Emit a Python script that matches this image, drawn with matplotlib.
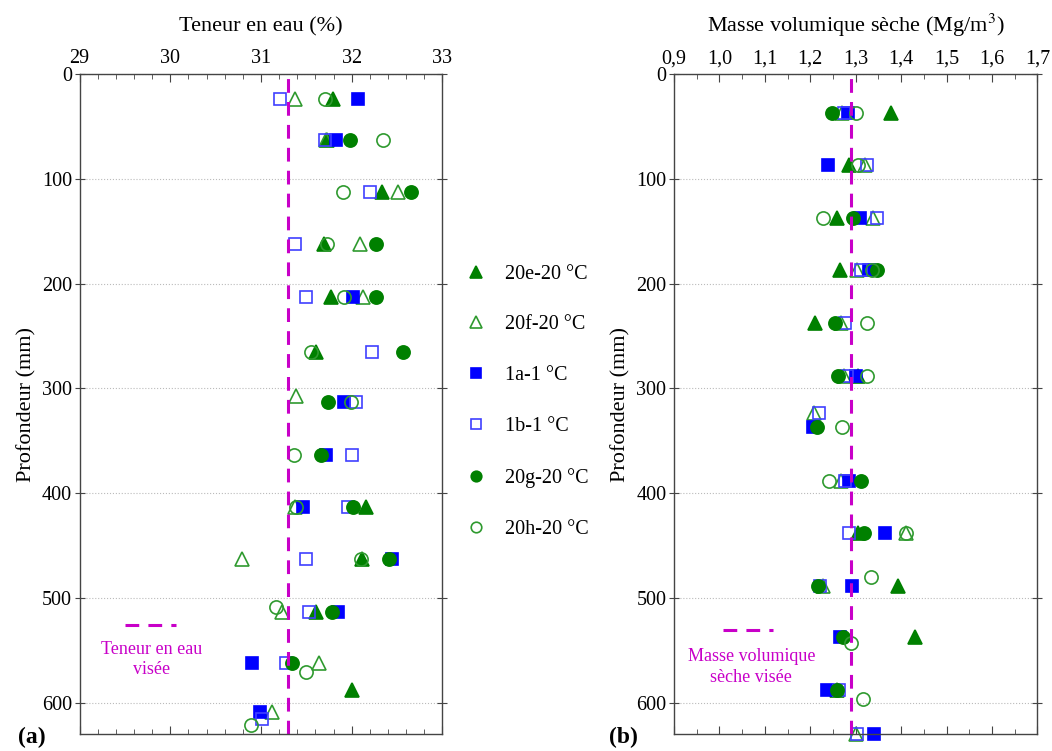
"""
profils de teneur en eau et de masse volumique seche
en fonction de la profondeur
"""
import numpy as np
import matplotlib.pyplot as plt
from matplotlib.ticker import MultipleLocator

plt.rcParams['font.family'] = ['Liberation Serif', 'DejaVu Serif']
plt.rcParams['mathtext.fontset'] = 'stix'

labels = ["20e-20 °C", "20f-20 °C", "1a-1 °C", "1b-1 °C", "20g-20 °C", "20h-20 °C"]

# teneur en eau (%) -- panneau (a)
w_20e_z = [24, 63, 113, 162, 213, 265, 413, 463, 513, 588]
w_20e = [31.79, 31.73, 32.33, 31.69, 31.77, 31.61, 32.16, 32.11, 31.61, 32.00]
w_20f_z = [24, 63, 113, 162, 213, 307, 413, 463, 513, 562, 609]
w_20f = [31.38, 31.72, 32.51, 32.09, 32.12, 31.39, 31.38, 30.79, 31.23, 31.64, 31.12]
w_1a_z = [24, 63, 213, 313, 363, 413, 463, 513, 562, 609]
w_1a = [32.07, 31.83, 32.01, 31.91, 31.72, 31.46, 32.44, 31.85, 30.90, 30.99]
w_1b_z = [24, 63, 113, 162, 213, 265, 313, 363, 413, 463, 513, 562, 615]
w_1b = [31.21, 31.70, 32.20, 31.38, 31.50, 32.22, 32.05, 32.00, 31.96, 31.50, 31.53, 31.28, 31.01]
w_20g_z = [63, 113, 162, 213, 265, 313, 363, 413, 463, 513, 562]
w_20g = [31.98, 32.65, 32.27, 32.27, 32.57, 31.74, 31.66, 32.01, 32.41, 31.78, 31.34]
w_20h_z = [24, 63, 113, 162, 213, 265, 313, 363, 413, 463, 508, 570, 621]
w_20h = [31.71, 32.35, 31.90, 31.73, 31.91, 31.55, 31.99, 31.36, 31.39, 32.10, 31.17, 31.50, 30.89]
w_target = 31.3

# masse volumique seche (Mg/m3) -- panneau (b)
rho_20e_z = [37, 87, 137, 187, 238, 288, 438, 488, 537, 588]
rho_20e = [1.378, 1.286, 1.258, 1.265, 1.211, 1.305, 1.306, 1.393, 1.430, 1.258]
rho_20f_z = [37, 87, 137, 187, 238, 288, 323, 388, 438, 488, 630]
rho_20f = [1.270, 1.320, 1.338, 1.303, 1.267, 1.274, 1.208, 1.267, 1.410, 1.229, 1.300]
rho_1a_z = [37, 87, 137, 187, 288, 337, 388, 438, 488, 537, 588, 630]
rho_1a = [1.284, 1.238, 1.309, 1.330, 1.300, 1.207, 1.286, 1.365, 1.291, 1.265, 1.236, 1.340]
rho_1b_z = [37, 87, 137, 187, 238, 288, 323, 388, 438, 488, 588, 630]
rho_1b = [1.274, 1.324, 1.347, 1.311, 1.276, 1.281, 1.219, 1.276, 1.286, 1.222, 1.264, 1.302]
rho_20g_z = [37, 137, 187, 238, 288, 337, 388, 438, 488, 537, 588]
rho_20g = [1.247, 1.294, 1.347, 1.254, 1.262, 1.214, 1.311, 1.318, 1.217, 1.271, 1.258]
rho_20h_z = [37, 87, 137, 187, 238, 288, 337, 388, 438, 480, 543, 596]
rho_20h = [1.300, 1.304, 1.227, 1.336, 1.324, 1.325, 1.269, 1.242, 1.410, 1.333, 1.289, 1.316]
rho_target = 1.29

rho_ticks = [0.9, 1.0, 1.1, 1.2, 1.3, 1.4, 1.5, 1.6, 1.7]
rho_ticklabels = ["0,9", "1,0", "1,1", "1,2", "1,3", "1,4", "1,5", "1,6", "1,7"]

green = '#008000'
green_open = '#2f9a2f'
blue = '#0000ff'
blue_open = '#4040ff'
magenta = '#c800c8'

# style of each series : marker, size, face, edge
styles = [
    dict(marker='^', ms=10, mfc=green, mec=green),
    dict(marker='^', ms=10, mfc='none', mec=green_open),
    dict(marker='s', ms=8.5, mfc=blue, mec=blue),
    dict(marker='s', ms=8.5, mfc='none', mec=blue_open),
    dict(marker='o', ms=9.5, mfc=green, mec=green),
    dict(marker='o', ms=9.5, mfc='none', mec=green_open),
]

fig = plt.figure(figsize=(10.52, 7.51), dpi=100)
ax1 = fig.add_axes([0.0756, 0.022, 0.345, 0.8795])
ax2 = fig.add_axes([0.6407, 0.022, 0.3455, 0.8795])


def setup_axis(ax, xlabel):
    ax.set_ylim(630, 0)
    ax.xaxis.tick_top()
    ax.xaxis.set_label_position('top')
    ax.set_xlabel(xlabel, fontsize=16, labelpad=13)
    ax.set_ylabel("Profondeur (mm)", fontsize=16, labelpad=4)
    ax.yaxis.set_major_locator(MultipleLocator(100))
    ax.tick_params(axis='x', which='both', direction='in', top=True, bottom=True,
                   labelsize=14.5, pad=4, color='#444444')
    ax.tick_params(axis='x', which='major', length=6)
    ax.tick_params(axis='x', which='minor', length=3.5)
    ax.tick_params(axis='y', which='major', direction='inout', left=True, right=True,
                   length=7, labelsize=14.5, pad=2, color='#444444')
    ax.grid(axis='y', linestyle=':', color='#bbbbbb', linewidth=0.8)
    ax.set_axisbelow(True)
    for sp in ax.spines.values():
        sp.set_color('#444444')
        sp.set_linewidth(1.0)


# panneau (a)
w_data = [(w_20e, w_20e_z), (w_20f, w_20f_z), (w_1a, w_1a_z),
          (w_1b, w_1b_z), (w_20g, w_20g_z), (w_20h, w_20h_z)]
handles = []
for (x, z), st, lab in zip(w_data, styles, labels):
    h, = ax1.plot(x, z, linestyle='none', mew=1.2, clip_on=False, label=lab, **st)
    handles.append(h)
ax1.axvline(w_target, color=magenta, linewidth=2.2, linestyle=(0, (4.5, 3)))
ax1.set_xlim(29, 33)
ax1.xaxis.set_major_locator(MultipleLocator(1))
ax1.xaxis.set_minor_locator(MultipleLocator(0.2))
setup_axis(ax1, "Teneur en eau (%)")

# petite legende de la valeur visee
ax1.plot([0.125, 0.265], [0.165, 0.165], transform=ax1.transAxes,
         color=magenta, linewidth=2.2, linestyle=(0, (4.5, 3)))
ax1.text(0.198, 0.113, "Teneur en eau\nvisée", transform=ax1.transAxes,
         ha='center', va='center', color=magenta, fontsize=13, linespacing=1.25)

# panneau (b)
rho_data = [(rho_20e, rho_20e_z), (rho_20f, rho_20f_z), (rho_1a, rho_1a_z),
            (rho_1b, rho_1b_z), (rho_20g, rho_20g_z), (rho_20h, rho_20h_z)]
for (x, z), st in zip(rho_data, styles):
    ax2.plot(x, z, linestyle='none', mew=1.2, clip_on=False, **st)
ax2.axvline(rho_target, color=magenta, linewidth=2.2, linestyle=(0, (4.5, 3)))
ax2.set_xlim(0.9, 1.7)
ax2.set_xticks(rho_ticks)
ax2.set_xticklabels(rho_ticklabels)
ax2.xaxis.set_minor_locator(MultipleLocator(0.05))
setup_axis(ax2, "Masse volumique sèche (Mg/m$^3$)")

ax2.plot([0.134, 0.273], [0.158, 0.158], transform=ax2.transAxes,
         color=magenta, linewidth=2.2, linestyle=(0, (4.5, 3)))
ax2.text(0.213, 0.102, "Masse volumique\nsèche visée", transform=ax2.transAxes,
         ha='center', va='center', color=magenta, fontsize=13, linespacing=1.25)

fig.legend(handles=handles, loc='upper left', bbox_to_anchor=(0.426, 0.672),
           frameon=False, fontsize=14.5, markerscale=0.8, labelspacing=1.58,
           handlelength=1.0, handletextpad=0.9)

fig.text(0.017, 0.004, "(a)", fontsize=17, fontweight='bold', ha='left', va='bottom')
fig.text(0.579, 0.004, "(b)", fontsize=17, fontweight='bold', ha='left', va='bottom')

fig.savefig("out.png", dpi=100)
